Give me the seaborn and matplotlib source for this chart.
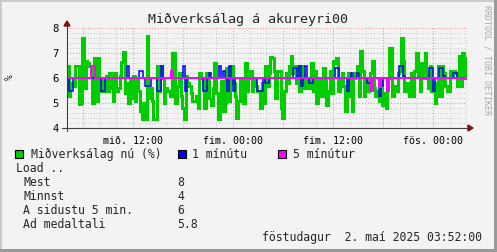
import numpy as np
import pandas as pd
import matplotlib
matplotlib.use("Agg")
import matplotlib.pyplot as plt
import matplotlib.ticker as mticker
from matplotlib.lines import Line2D
from matplotlib.patches import Rectangle, Polygon
import seaborn as sns

# ---------------- data ----------------
# x axis: hours relative to "fös. 00:00"
x_start, x_end = -43.9, 4.1

green_now = [
    6.5, 5.3, 5.7, 5.8, 5.7, 6.5, 6.5, 4.95, 5.0, 7.6,
    5.6, 6.7, 6.6, 6.5, 6.35, 5.0, 6.8, 5.1, 6.8, 5.5,
    6.0, 5.8, 5.5, 6.1, 5.5, 6.2, 5.6, 5.1, 6.2, 5.5,
    5.6, 6.1, 6.65, 7.05, 5.4, 5.8, 5.0, 6.0, 5.2, 6.1,
    5.1, 6.0, 5.5, 4.7, 4.35, 5.0, 4.35, 7.7, 5.2, 5.6,
    5.1, 4.35, 4.35, 6.5, 5.5, 6.5, 6.0, 5.0, 5.6, 5.5,
    5.5, 5.3, 7.0, 7.0, 5.0, 5.7, 6.2, 5.3, 4.8, 4.35,
    6.1, 5.8, 5.7, 5.4, 5.1, 5.1, 5.3, 4.8, 6.2, 6.0,
    5.8, 4.8, 6.2, 6.2, 5.2, 4.9, 5.6, 6.6, 5.4, 4.35,
    5.3, 5.9, 4.7, 5.0, 6.4, 5.1, 6.3, 6.5, 5.8, 5.3,
    4.4, 5.1, 6.0, 5.5, 5.0, 6.6,
    5.5, 6.0, 6.3, 5.5, 6.0, 5.7, 5.5, 5.5, 4.8, 5.8,
    5.0, 6.5, 5.7, 6.2, 6.85, 6.8, 6.3, 5.2, 6.3, 6.3,
    4.8, 4.4, 5.5, 6.2, 5.8, 6.5, 6.9, 6.2, 6.5, 5.8,
    6.5, 5.5, 6.5, 6.3, 5.6, 6.0, 5.6, 5.6, 6.6, 5.5,
    6.3, 5.0, 6.0, 6.0, 5.3, 6.4, 6.0, 4.9, 5.5, 6.3,
    5.4, 6.7, 6.6, 6.8, 5.5, 6.0, 6.2, 5.7, 4.7, 5.7,
    6.2, 5.3, 4.7, 6.0, 6.2, 6.5, 5.3, 7.1, 6.3, 5.3,
    6.0, 5.5, 6.0, 6.2, 6.7, 5.6, 5.3, 5.5, 5.1, 5.9,
    4.9, 5.4, 4.8, 6.0, 7.2, 7.2, 5.3, 5.7, 5.5, 6.2,
    6.3, 7.6, 6.7, 5.5, 5.8, 5.5, 5.3, 6.2, 5.3, 6.3,
    7.0, 6.1, 5.5, 6.6, 6.0, 7.0, 6.1, 5.6, 6.5, 5.5,
    5.8, 5.0, 5.3, 6.5, 5.3, 6.5, 6.2, 5.7, 5.5, 5.5,
    6.3, 6.1, 6.3, 6.2, 5.7, 6.9, 5.7, 7.0, 6.0, 6.8,
]

blue_1min = [
    6, 5.5, 5.5, 6, 6, 6, 6, 6, 6, 6, 6, 6, 6, 6, 6, 6, 6, 5.5, 5.5, 6,
    6, 6, 6, 6, 6, 6, 6, 6, 6, 6, 6.5, 6, 6, 6, 6, 6, 6.3, 6.3, 6, 5.7,
    5.7, 5.7, 6, 6, 6, 5.5, 5.5, 6.5, 6, 6, 6, 6, 6, 6, 6, 6, 6, 6, 6.5, 5.5,
    6, 6, 6, 6, 6, 6, 6, 6, 5.5, 5.5, 6, 6.2, 6, 6, 6, 6, 6.5, 6, 6.3, 6,
    5.5, 6.5, 6, 5.5, 6, 6, 6, 6, 6, 6, 6, 6, 6, 6, 6, 5.5, 5.5, 5.5, 6, 5.8,
    5.8, 6, 6, 6, 6, 6, 6, 6, 6, 6, 6, 6, 6, 6.4, 6.4, 6, 6.5, 5.7, 6, 6.5,
    6, 5.8, 5.8, 6, 6, 6, 6, 6, 6, 6, 6, 6, 6, 6, 6.4, 6.4, 6, 6, 6, 6,
    5.5, 6, 6.2, 6, 6, 6.2, 6, 6, 6, 6, 5.8, 5.8, 6, 6, 6, 6, 5.3, 5.7, 6, 6,
    6, 6, 6, 6, 6, 6, 6.5, 6.5, 6.1, 6, 6, 6, 6, 6, 6, 6, 6, 6, 6, 6,
    6, 6.4, 6.4, 5.5, 6, 6, 6.4, 6.4, 6.1, 6, 6, 6, 6, 6.2, 6.2, 6, 6, 6, 6, 6,
]

magenta_5min = [
    6, 6, 6, 6, 6, 6, 6, 6, 6, 6, 6, 6, 6.5, 6.5, 6, 6, 6, 6, 6, 6,
    6, 6, 6, 6, 6, 6, 6, 6, 6, 6, 6, 6, 6, 6, 6, 6, 6, 6, 6, 6,
    6, 6, 6, 6, 6, 6, 6, 6, 6, 6, 6, 6, 6.3, 6, 6, 6, 6, 6, 6, 6,
    6, 6, 6, 6, 6, 6, 6, 6, 6, 6, 6, 6, 6, 6, 6, 6, 6, 6, 6, 6,
    6, 6, 6, 6, 6, 6, 6, 6, 6, 6, 6, 6, 6, 6, 6, 6, 6, 6, 6, 6,
    6, 6, 6, 6, 6, 6, 6, 6, 6, 6, 6, 6, 6, 6, 6, 6, 6, 6, 6, 6,
    6, 6, 6, 6, 6, 6, 6, 6, 6, 6, 6, 6, 6, 6, 6, 6, 6, 6, 6, 6,
    6, 6, 6, 6, 6, 6, 6, 6, 6, 6, 6, 6, 5.5, 6, 6, 6, 5.65, 6, 6, 6,
    5.5, 6, 6, 6, 6, 6, 6, 6, 6, 6, 6, 6, 6, 6, 6, 6, 6, 6, 6, 6,
    6, 6, 6, 6, 6, 6, 6, 6, 6, 6, 6, 6, 6, 6, 6, 6, 6, 6, 6, 6,
]

x_tick_pos = [-36, -24, -12, 0]
x_tick_labels = ["mið. 12:00", "fim. 00:00", "fim. 12:00", "fös. 00:00"]
y_ticks = [4, 5, 6, 7, 8]

title = "Miðverksálag á akureyri00"
y_label = "%"
legend_labels = ["Miðverksálag nú (%)", "1 mínútu", "5 mínútur"]
legend_colors = ["#00CC00", "#0000FF", "#FF00FF"]
stats_header = "Load .."
stat_labels = ["Mest", "Minnst", "A sidustu 5 min.", "Ad medaltali"]
stat_values = ["8", "4", "6", "5.8"]
date_text = "föstudagur  2. maí 2025 03:52:00"
side_text = "RRDTOOL / TOBI OETIKER"

# ---------------- style ----------------
sns.set_style("white")
plt.rcParams["font.family"] = ["DejaVu Sans Mono", "DejaVu Sans"]

W, H = 497, 252
BG = "#F3F3F3"
fig = plt.figure(figsize=(W / 100, H / 100), dpi=100, facecolor=BG)

L, R, T, B = 67, 467, 28, 128
ax = fig.add_axes([L / W, 1 - B / H, (R - L) / W, (B - T) / H])
ax.set_facecolor(BG)


def step_frame(values):
    n = len(values)
    t = np.linspace(x_start, x_end, n + 1)
    v = list(values) + [values[-1]]
    return pd.DataFrame({"t": t, "v": v})


for vals, col, lw, z in [(green_now, legend_colors[0], 2.2, 3),
                         (blue_1min, legend_colors[1], 1.1, 4),
                         (magenta_5min, legend_colors[2], 1.4, 5)]:
    sns.lineplot(data=step_frame(vals), x="t", y="v", ax=ax, color=col,
                 lw=lw, drawstyle="steps-post", estimator=None, sort=False,
                 zorder=z, solid_joinstyle="miter", solid_capstyle="butt")

ax.set_xlim(x_start, x_end)
ax.set_ylim(4, 8)
ax.set_xlabel("")
ax.set_ylabel("")

ax.xaxis.set_major_locator(mticker.MultipleLocator(6))
ax.xaxis.set_minor_locator(mticker.MultipleLocator(2))
lab_map = dict(zip(x_tick_pos, x_tick_labels))
ax.xaxis.set_major_formatter(mticker.FuncFormatter(
    lambda v, p: lab_map.get(int(round(v)), "")))
ax.set_yticks(y_ticks)
ax.yaxis.set_minor_locator(mticker.MultipleLocator(0.2))

ax.grid(which="minor", color="#C8C8C8", ls=(0, (1, 2)), lw=0.7)
ax.grid(which="major", color="#F08888", ls=(0, (1, 2)), lw=0.7)
ax.set_axisbelow(True)

for s in ax.spines.values():
    s.set_visible(False)

ax.tick_params(which="both", direction="out", color="#555555", width=0.6)
ax.tick_params(which="major", length=2.5)
ax.tick_params(which="minor", length=1.5)
ax.tick_params(axis="x", labelsize=7.2, pad=3.5, labelcolor="black")
ax.tick_params(axis="y", labelsize=7.6, pad=3.5, labelcolor="black")


def fx(x):
    return x / W


def fy(y):
    return 1 - y / H


# axis lines with arrows
fig.add_artist(Line2D([fx(62), fx(469)], [fy(B), fy(B)], color="#404040",
                      lw=0.8, transform=fig.transFigure, zorder=10))
fig.add_artist(Line2D([fx(L), fx(L)], [fy(B + 3), fy(25)], color="#404040",
                      lw=0.8, transform=fig.transFigure, zorder=10))
fig.add_artist(Polygon([[fx(468), fy(B - 3)], [fx(468), fy(B + 3)],
                        [fx(473), fy(B)]], closed=True, fc="#801010",
                       ec="#801010", transform=fig.transFigure, zorder=11))
fig.add_artist(Polygon([[fx(L - 3), fy(26)], [fx(L + 3), fy(26)],
                        [fx(L), fy(21)]], closed=True, fc="#801010",
                       ec="#801010", transform=fig.transFigure, zorder=11))

# title and labels
fig.text(fx(248), fy(23), title, ha="center", va="baseline", fontsize=9.6)
fig.text(fx(10), fy(77), y_label, ha="center", va="center", fontsize=7,
         rotation=90)
fig.text(fx(487), fy(60), side_text, ha="center", va="center", fontsize=6,
         rotation=-90, color="#AAAAAA")

# legend
sq = [(15, 150), (178, 150), (278, 150)]
tx = [31, 192, 293]
for (sx, sy), t, lab, col in zip(sq, tx, legend_labels, legend_colors):
    fig.add_artist(Rectangle((fx(sx), fy(sy + 8)), 8 / W, 8 / H, fc=col,
                             ec="black", lw=0.8, transform=fig.transFigure))
    fig.text(fx(t), fy(158), lab, ha="left", va="baseline", fontsize=8.3)

fig.text(fx(16), fy(172), stats_header, ha="left", va="baseline", fontsize=8.3)
for i, (lab, val) in enumerate(zip(stat_labels, stat_values)):
    yb = 186 + 14 * i
    fig.text(fx(23), fy(yb), lab, ha="left", va="baseline", fontsize=8.3)
    fig.text(fx(177), fy(yb), val, ha="left", va="baseline", fontsize=8.3)

fig.text(fx(482), fy(241), date_text, ha="right", va="baseline", fontsize=8.3)

# frame (3D-ish border)
fig.add_artist(Rectangle((0, 1 - 2 / H), 1, 2 / H, fc="#CBCBCB", ec="none",
                         transform=fig.transFigure))
fig.add_artist(Rectangle((0, 0), 2 / W, 1, fc="#CBCBCB", ec="none",
                         transform=fig.transFigure))
fig.add_artist(Rectangle((1 - 3 / W, 0), 3 / W, 1, fc="#999999", ec="none",
                         transform=fig.transFigure))
fig.add_artist(Rectangle((0, 0), 1, 3 / H, fc="#999999", ec="none",
                         transform=fig.transFigure))

fig.savefig("out.png", dpi=100, facecolor=BG)
